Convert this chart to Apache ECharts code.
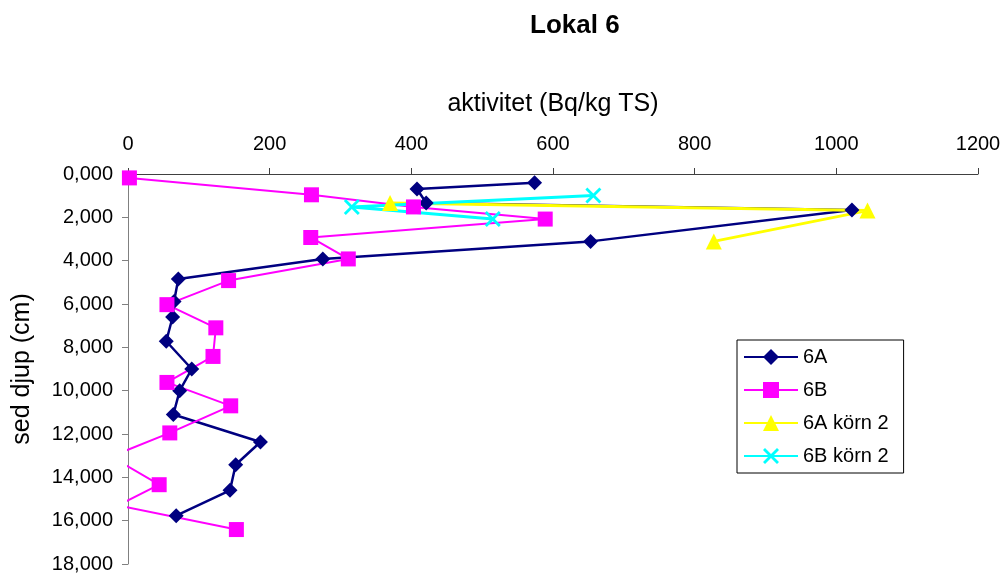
<!DOCTYPE html>
<html lang="sv">
<head>
  <meta charset="UTF-8">
  <script src="https://cdn.jsdelivr.net/npm/echarts@6/dist/echarts.min.js"></script>
  <style>
    html, body { margin: 0; padding: 0; background: #ffffff; }
    #main { width: 1005px; height: 577px; }
  </style>
</head>
<body>
  <div id="main"></div>
  <script>
    // depth (cm) and activity (Bq/kg TS)
    var depth6A = [0.40, 0.69, 1.34, 1.66, 3.11, 3.92, 4.85, 5.88, 6.60, 7.72, 9.00, 10.00, 11.10, 12.37, 13.42, 14.60, 15.77];
    var akt6A   = [574, 408, 421, 1022, 653, 275, 71, 65, 63, 54, 90, 73, 64, 187, 152, 144, 68];

    var depth6B = [0.18, 0.96, 1.52, 2.08, 2.93, 3.92, 4.92, 6.03, 7.10, 8.42, 9.62, 10.70, 11.95, 13.04, 14.34, 15.30, 16.41];
    var akt6B   = [2, 259, 403, 589, 258, 311, 142, 55, 124, 120, 55, 145, 59, -24, 44, -14, 153];

    var depth6Ak2 = [1.34, 1.69, 3.11];
    var akt6Ak2   = [370, 1044, 827];

    var depth6Bk2 = [0.99, 1.52, 2.08];
    var akt6Bk2   = [657, 316, 515];

    var xTicks = { min: 0, max: 1200, interval: 200 };
    var yTicks = { min: 0, max: 18, interval: 2 };

    function pairs(xs, ys) {
      return xs.map(function (x, i) { return [x, ys[i]]; });
    }

    var font = 'Liberation Sans, Arial, sans-serif';
    var crossIcon = 'path://M0,2L2,0L8,6L14,0L16,2L10,8L16,14L14,16L8,10L2,16L0,14L6,8Z';

    var chart = echarts.init(document.getElementById('main'));
    chart.setOption({
      animation: false,
      textStyle: { fontFamily: font, color: '#000' },
      title: {
        text: 'Lokal 6',
        left: 525,
        top: 8,
        textStyle: { fontFamily: font, fontSize: 26, fontWeight: 'bold', color: '#000' }
      },
      grid: { left: 128, right: 27, top: 174, bottom: 13 },
      legend: {
        orient: 'vertical',
        left: 737,
        top: 340,
        padding: [7, 15, 7, 6],
        borderColor: '#000',
        borderWidth: 1,
        itemWidth: 54,
        itemHeight: 20,
        itemGap: 13,
        textStyle: { fontFamily: font, fontSize: 20, color: '#000' },
        data: ['6A', '6B', '6A körn 2', '6B körn 2']
      },
      xAxis: {
        type: 'value',
        position: 'top',
        min: xTicks.min,
        max: xTicks.max,
        interval: xTicks.interval,
        name: 'aktivitet (Bq/kg TS)',
        nameLocation: 'middle',
        nameGap: 57,
        nameTextStyle: { fontFamily: font, fontSize: 25, color: '#000' },
        axisLine: { show: true, lineStyle: { color: '#404040', width: 1 } },
        axisTick: { show: true, length: 6, lineStyle: { color: '#404040' } },
        axisLabel: {
          fontFamily: font, fontSize: 20, color: '#000', margin: 20,
          formatter: function (v) { return String(v); }
        },
        splitLine: { show: false }
      },
      yAxis: {
        type: 'value',
        inverse: true,
        min: yTicks.min,
        max: yTicks.max,
        interval: yTicks.interval,
        name: 'sed djup (cm)',
        nameLocation: 'middle',
        nameGap: 93,
        nameRotate: 90,
        nameTextStyle: { fontFamily: font, fontSize: 25, color: '#000' },
        axisLine: { show: true, lineStyle: { color: '#808080', width: 1 } },
        axisTick: { show: true, length: 6, lineStyle: { color: '#808080' } },
        axisLabel: {
          fontFamily: font, fontSize: 20, color: '#000', margin: 15,
          formatter: function (v) { return v.toFixed(3).replace('.', ','); }
        },
        splitLine: { show: false }
      },
      series: [
        {
          name: '6A',
          type: 'line',
          data: pairs(akt6A, depth6A),
          symbol: 'diamond',
          symbolSize: 15,
          lineStyle: { color: '#000080', width: 2.5 },
          itemStyle: { color: '#000080' }
        },
        {
          name: '6B',
          type: 'line',
          data: pairs(akt6B, depth6B),
          symbol: 'rect',
          symbolSize: 15,
          lineStyle: { color: '#ff00ff', width: 2 },
          itemStyle: { color: '#ff00ff' }
        },
        {
          name: '6A körn 2',
          type: 'line',
          data: pairs(akt6Ak2, depth6Ak2),
          symbol: 'triangle',
          symbolSize: 16,
          lineStyle: { color: '#ffff00', width: 3 },
          itemStyle: { color: '#ffff00' }
        },
        {
          name: '6B körn 2',
          type: 'line',
          data: pairs(akt6Bk2, depth6Bk2),
          symbol: crossIcon,
          symbolSize: 16,
          lineStyle: { color: '#00ffff', width: 3 },
          itemStyle: { color: '#00ffff' }
        }
      ]
    });
  </script>
</body>
</html>
